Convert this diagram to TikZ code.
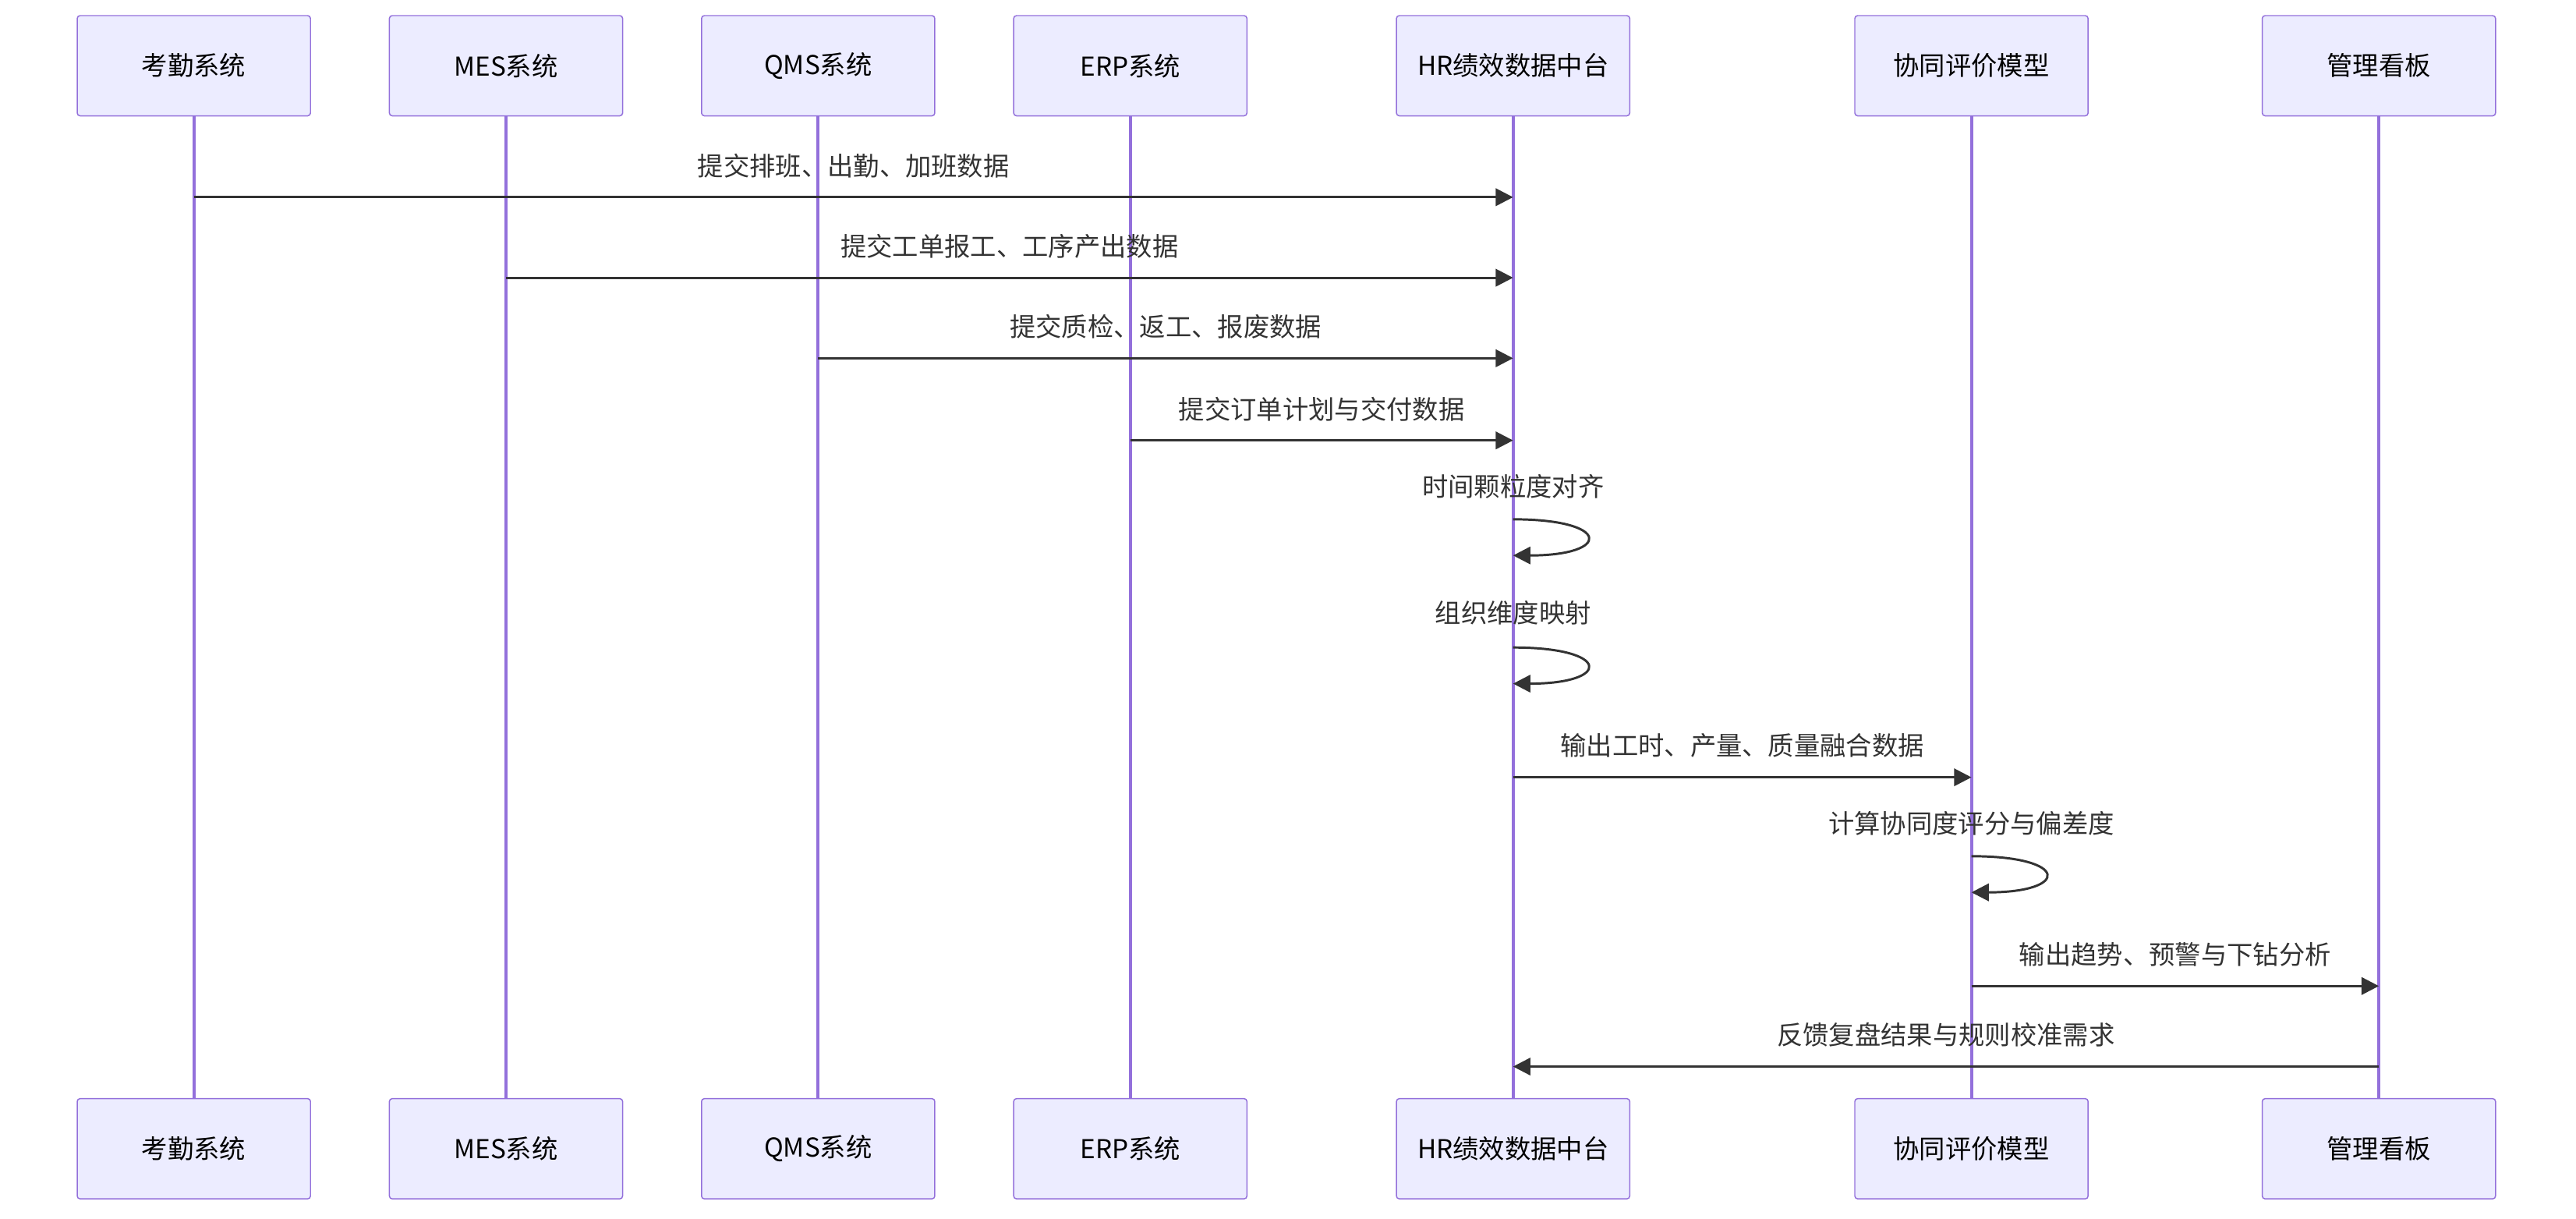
\documentclass[tikz,border=0pt]{standalone}
\usepackage{fontspec}
\setmainfont{Noto Sans CJK SC}
\usetikzlibrary{arrows.meta, calc}
\definecolor{actfill}{HTML}{ECECFF}
\definecolor{actline}{HTML}{9370DB}
\definecolor{msgline}{HTML}{333333}
\tikzset{
  actor/.style={draw=actline, fill=actfill, rounded corners=1pt, minimum width=2.84cm, minimum height=1.22cm, font=\fontsize{9}{11}\selectfont, text=black},
  life/.style={draw=actline, line width=1.1pt},
  msg/.style={draw=msgline, line width=0.8pt, -{Triangle[length=6pt, width=6pt]}},
  lbl/.style={font=\fontsize{9}{11}\selectfont, text=msgline}
}
\begin{document}
\begin{tikzpicture}
\useasboundingbox (0,0) rectangle (31.36,-14.826);
%% actors, top and bottom
\foreach \name/\x/\txt in {kq/2.36/考勤系统, mes/6.16/MES系统, qms/9.96/QMS系统, erp/13.76/ERP系统, hr/18.42/HR绩效数据中台, xt/24.00/协同评价模型, kb/28.96/管理看板} {
  \node[actor] (\name t) at (\x, -0.80) {\txt};
  \node[actor] (\name b) at (\x, -13.98) {\txt};
  \draw[life] (\name t.south) -- (\name b.north);
}
%% messages
\coordinate (m1a) at (2.36,-2.40);  \coordinate (m1b) at (18.42,-2.40);
\coordinate (m2a) at (6.16,-3.38);  \coordinate (m2b) at (18.42,-3.38);
\coordinate (m3a) at (9.96,-4.36);  \coordinate (m3b) at (18.42,-4.36);
\coordinate (m4a) at (13.76,-5.36); \coordinate (m4b) at (18.42,-5.36);
\coordinate (m7a) at (18.42,-9.46); \coordinate (m7b) at (24.00,-9.46);
\coordinate (m9a) at (24.00,-12.00); \coordinate (m9b) at (28.96,-12.00);
\coordinate (m10a) at (28.96,-12.98); \coordinate (m10b) at (18.42,-12.98);
\draw[msg] (m1a) -- node[lbl, above=3pt] {提交排班、出勤、加班数据} (m1b);
\draw[msg] (m2a) -- node[lbl, above=3pt] {提交工单报工、工序产出数据} (m2b);
\draw[msg] (m3a) -- node[lbl, above=3pt] {提交质检、返工、报废数据} (m3b);
\draw[msg] (m4a) -- node[lbl, above=3pt] {提交订单计划与交付数据} (m4b);
\draw[msg] (m7a) -- node[lbl, above=3pt] {输出工时、产量、质量融合数据} (m7b);
\draw[msg] (m9a) -- node[lbl, above=3pt] {输出趋势、预警与下钻分析} (m9b);
\draw[msg] (m10a) -- node[lbl, above=3pt] {反馈复盘结果与规则校准需求} (m10b);
%% self messages
\coordinate (s1a) at (18.42,-6.32); \coordinate (s1b) at (18.42,-6.76);
\coordinate (s2a) at (18.42,-7.88); \coordinate (s2b) at (18.42,-8.32);
\coordinate (s3a) at (24.00,-10.42); \coordinate (s3b) at (24.00,-10.86);
\draw[msg] (s1a) .. controls ($(s1a)+(1.2,0)$) and ($(s1b)+(1.2,0)$) .. (s1b);
\draw[msg] (s2a) .. controls ($(s2a)+(1.2,0)$) and ($(s2b)+(1.2,0)$) .. (s2b);
\draw[msg] (s3a) .. controls ($(s3a)+(1.2,0)$) and ($(s3b)+(1.2,0)$) .. (s3b);
\node[lbl] (t1) at (18.42,-5.92) {时间颗粒度对齐};
\node[lbl] (t2) at (18.42,-7.46) {组织维度映射};
\node[lbl] (t3) at (24.00,-10.02) {计算协同度评分与偏差度};
\end{tikzpicture}
\end{document}
